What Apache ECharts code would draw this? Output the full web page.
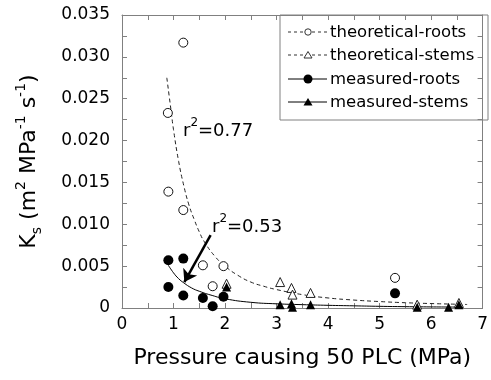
<!DOCTYPE html>
<html>
<head>
<meta charset="utf-8">
<script src="https://cdn.jsdelivr.net/npm/echarts@6/dist/echarts.min.js"></script>
<style>html,body{margin:0;padding:0;background:#fff}#c{width:491px;height:380px}</style>
</head>
<body>
<div id="c"></div>
<script>
// ---- data ----
var theoRootsX = [0.89, 0.90, 1.19, 1.19, 1.57, 1.76, 1.97, 5.30];
var theoRootsY = [0.0233, 0.0139, 0.0317, 0.0117, 0.0051, 0.0026, 0.0050, 0.0036];
var theoStemsX = [2.03, 3.07, 3.29, 3.31, 3.66, 5.73, 6.54];
var theoStemsY = [0.0029, 0.0031, 0.0024, 0.0016, 0.0018, 0.0004, 0.0006];
var measRootsX = [0.90, 1.19, 0.90, 1.19, 1.57, 1.97, 1.76, 5.30];
var measRootsY = [0.0057, 0.0059, 0.0025, 0.0015, 0.0012, 0.00135, 0.0002, 0.00175];
var measStemsX = [2.03, 3.07, 3.29, 3.31, 3.66, 5.73, 6.34, 6.54];
var measStemsY = [0.0025, 0.0004, 0.0005, 0.0001, 0.0004, 0.0001, 0.0001, 0.0004];
var theoFitX = [0.87, 0.95, 1.0, 1.1, 1.2, 1.3, 1.4, 1.5, 1.6, 1.8, 2.0, 2.25, 2.5, 2.75, 3.0, 3.5, 4.0, 4.5, 5.0, 5.5, 6.0, 6.5, 6.7];
var theoFitY = [0.0275, 0.0237, 0.0213, 0.0175, 0.0146, 0.0123, 0.0106, 0.0091, 0.0079, 0.0062, 0.0050, 0.0039, 0.0031, 0.0026, 0.0022, 0.0016, 0.0012, 0.00095, 0.00077, 0.00063, 0.00053, 0.00045, 0.00042];
var measFitX = [0.9, 1.0, 1.1, 1.2, 1.35, 1.5, 1.75, 2.0, 2.5, 3.0, 3.5, 4.0, 4.5, 5.0, 5.5, 6.0, 6.55];
var measFitY = [0.0051, 0.0042, 0.0035, 0.0030, 0.0024, 0.0020, 0.0015, 0.0011, 0.00068, 0.00050, 0.00040, 0.00032, 0.00026, 0.00020, 0.00016, 0.00013, 0.00011];
var arrowFrom = [1.72, 0.0087];
var arrowTo = [1.21, 0.0031];
var legendNames = ['theoretical-roots', 'theoretical-stems', 'measured-roots', 'measured-stems'];
// [min, max, label step, tick step]
var xTicks = [0, 7, 1, 0.5];
var yTicks = [0, 0.035, 0.005, 0.0025];

function pairs(xs, ys) { return xs.map(function (x, i) { return [x, ys[i]]; }); }

var FONT = 'DejaVu Sans';
var AX = '#808080';

function isMultiple(v, step) {
  var r = v / step;
  return Math.abs(r - Math.round(r)) < 1e-6;
}

function makeAxis(pos, ticks, labelOpts) {
  return {
    type: 'value', position: pos, min: ticks[0], max: ticks[1], interval: ticks[3],
    axisLine: { show: true, onZero: false, lineStyle: { color: AX, width: 1 } },
    axisTick: { show: true, inside: true, length: 5, lineStyle: { color: AX } },
    splitLine: { show: false },
    axisLabel: labelOpts || { show: false }
  };
}

var chart = echarts.init(document.getElementById('c'), null, { renderer: 'canvas' });

var xBottom = makeAxis('bottom', xTicks, {
  show: true, fontFamily: FONT, fontSize: 17, color: '#000', margin: 8,
  formatter: function (v) { return isMultiple(v, xTicks[2]) ? String(Math.round(v)) : ''; }
});
xBottom.name = 'Pressure causing 50 PLC (MPa)';
xBottom.nameLocation = 'middle';
xBottom.nameGap = 39;
xBottom.nameTextStyle = { fontFamily: FONT, fontSize: 22, color: '#000' };
var xTop = makeAxis('top', xTicks, null);

var yLeft = makeAxis('left', yTicks, {
  show: true, fontFamily: FONT, fontSize: 17, color: '#000', margin: 12,
  formatter: function (v) {
    if (!isMultiple(v, yTicks[2])) return '';
    return Math.abs(v) < 1e-12 ? '0' : v.toFixed(3);
  }
});
yLeft.name = '{m|K}{sub|s}{m| (m}{sup|2}{m| MPa}{sup|-1}{m| s}{sup|-1}{m|)}';
yLeft.nameLocation = 'middle';
yLeft.nameGap = 78;
yLeft.nameTextStyle = {
  rich: {
    m: { fontFamily: FONT, fontSize: 22, color: '#000', lineHeight: 30, verticalAlign: 'middle' },
    sub: { fontFamily: FONT, fontSize: 14, color: '#000', lineHeight: 30, verticalAlign: 'bottom' },
    sup: { fontFamily: FONT, fontSize: 14, color: '#000', lineHeight: 30, verticalAlign: 'top' }
  }
};
var yRight = makeAxis('right', yTicks, null);

// legend (drawn as graphic)
var LX = 280, LY = 15, LW = 208, LH = 105;
var rowsY = [32, 55, 79, 102];
var legendEls = [{
  type: 'rect', shape: { x: LX, y: LY, width: LW, height: LH },
  style: { fill: '#fff', stroke: AX, lineWidth: 1 }
}];
rowsY.forEach(function (ry, i) {
  var dashed = i < 2;
  legendEls.push({
    type: 'line', shape: { x1: 288, y1: ry, x2: 327, y2: ry },
    style: { stroke: dashed ? '#333' : '#000', lineWidth: 1, lineDash: dashed ? [3, 3] : null }
  });
  var sym;
  if (i === 0) sym = { type: 'circle', shape: { cx: 308, cy: ry, r: 3.2 }, style: { fill: '#fff', stroke: '#333', lineWidth: 1 } };
  if (i === 1) sym = { type: 'polygon', shape: { points: [[308, ry - 3.5], [304, ry + 3], [312, ry + 3]] }, style: { fill: '#fff', stroke: '#333', lineWidth: 1 } };
  if (i === 2) sym = { type: 'circle', shape: { cx: 308, cy: ry, r: 4.5 }, style: { fill: '#000' } };
  if (i === 3) sym = { type: 'polygon', shape: { points: [[308, ry - 4], [303.5, ry + 3.5], [312.5, ry + 3.5]] }, style: { fill: '#000' } };
  legendEls.push(sym);
  legendEls.push({
    type: 'text', x: 330, y: ry + 1,
    style: { text: legendNames[i], font: '16.5px "' + FONT + '"', fill: '#000', verticalAlign: 'middle', align: 'left' }
  });
});

var rText = function (txt, x, y) {
  return {
    type: 'text', x: x, y: y,
    style: {
      text: '{a|r}{s|2}{a|=' + txt + '}', verticalAlign: 'middle', align: 'left',
      rich: {
        a: { fontFamily: FONT, fontSize: 18, fill: '#000', color: '#000', lineHeight: 28, verticalAlign: 'middle' },
        s: { fontFamily: FONT, fontSize: 12, fill: '#000', color: '#000', lineHeight: 28, verticalAlign: 'top' }
      }
    }
  };
};

var option = {
  animation: false,
  backgroundColor: '#fff',
  grid: { left: 122, right: 3, top: 15, bottom: 72, containLabel: false },
  xAxis: [xBottom, xTop],
  yAxis: [yLeft, yRight],
  series: [
    {
      name: 'theoretical fit', type: 'line', data: pairs(theoFitX, theoFitY), smooth: true,
      showSymbol: false, lineStyle: { color: '#222', width: 1, type: [4, 3] }, z: 1, silent: true
    },
    {
      name: 'measured fit', type: 'line', data: pairs(measFitX, measFitY), smooth: true,
      showSymbol: false, lineStyle: { color: '#000', width: 1 }, z: 1, silent: true
    },
    {
      name: 'arrow', type: 'lines', coordinateSystem: 'cartesian2d', silent: true, z: 5,
      symbol: ['none', 'arrow'], symbolSize: 12,
      lineStyle: { color: '#000', width: 2.5, opacity: 1 },
      data: [{ coords: [arrowFrom, arrowTo] }]
    },
    {
      name: legendNames[0], type: 'scatter', data: pairs(theoRootsX, theoRootsY), symbol: 'circle', symbolSize: 9,
      itemStyle: { color: '#fff', borderColor: '#111', borderWidth: 1, opacity: 1 }, z: 3
    },
    {
      name: legendNames[1], type: 'scatter', data: pairs(theoStemsX, theoStemsY), symbol: 'triangle', symbolSize: 9,
      itemStyle: { color: '#fff', borderColor: '#222', borderWidth: 1, opacity: 1 }, z: 3
    },
    {
      name: legendNames[2], type: 'scatter', data: pairs(measRootsX, measRootsY), symbol: 'circle', symbolSize: 10,
      itemStyle: { color: '#000', opacity: 1 }, z: 4
    },
    {
      name: legendNames[3], type: 'scatter', data: pairs(measStemsX, measStemsY), symbol: 'triangle', symbolSize: 9,
      itemStyle: { color: '#000', opacity: 1 }, z: 4
    }
  ],
  graphic: [
    { type: 'group', z: 100, children: legendEls },
    rText('0.77', 183, 131),
    rText('0.53', 212, 227)
  ]
};
chart.setOption(option);
</script>
</body>
</html>
